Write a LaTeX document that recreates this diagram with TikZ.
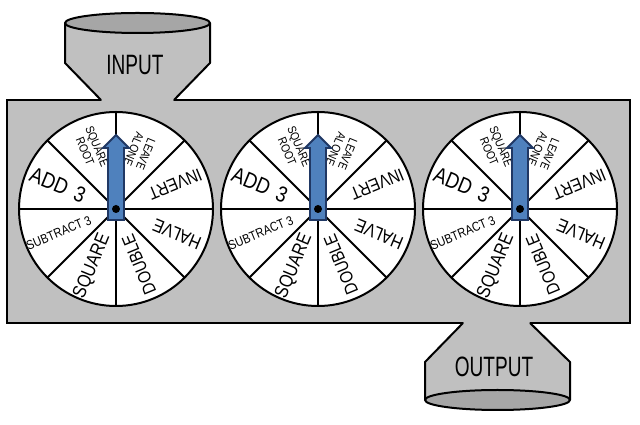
\documentclass[tikz,border=0pt]{standalone}
\usepackage{fontspec}
\setmainfont{Liberation Sans}
\newfontfamily\condfont[FakeStretch=0.68]{Liberation Sans}
\newfontfamily\wheelfont[FakeStretch=0.85]{Liberation Sans}
\usetikzlibrary{calc}
\definecolor{boxgray}{RGB}{192,192,192}
\definecolor{capgray}{RGB}{166,166,166}
\definecolor{pointerblue}{RGB}{79,129,189}
\definecolor{pointeredge}{RGB}{32,56,100}
\begin{document}
\begin{tikzpicture}[x=1pt,y=1pt,
  outline/.style={draw=black,line width=2pt,line join=round},
  machine/.style={draw=black,fill=boxgray,line width=2pt,minimum width=623pt,minimum height=223pt,inner sep=0pt,outer sep=0pt},
  wheel/.style={circle,draw=black,fill=white,line width=2pt,minimum size=194pt,inner sep=0pt,outer sep=0pt},
  spoke/.style={draw=black,line width=2pt},
  pointer/.style={draw=pointeredge,fill=pointerblue,line width=1.8pt,line join=miter},
  funneltext/.style={font=\condfont\fontsize{28}{30}\selectfont,inner sep=0pt,text=black},
  wlabel/.style={inner sep=0pt,align=center,text=black},
]
\useasboundingbox (0,0) rectangle (640,425);
% main box
\node[machine] (box) at (318.5,213.5) {};
% input funnel
\fill[boxgray] (103,323) -- (101,325) -- (65,362) -- (65,402) -- (210,402) -- (210,362) -- (174,325) -- (172,323) -- cycle;
\draw[outline] (101,325) -- (65,362) -- (65,402);
\draw[outline] (174,325) -- (210,362) -- (210,402);
\draw[outline,fill=capgray] (137.5,402) ellipse [x radius=72.5, y radius=10];
\node[funneltext] (input) at (135,360) {INPUT};
% output funnel
\fill[boxgray] (465,104) -- (463,102) -- (425,63) -- (425,25) -- (570,25) -- (570,63) -- (530,102) -- (528,104) -- cycle;
\draw[outline] (463,102) -- (425,63) -- (425,25);
\draw[outline] (530,102) -- (570,63) -- (570,25);
\draw[outline,fill=capgray] (497.5,25) ellipse [x radius=72.5, y radius=10];
\node[funneltext] (output) at (494,58) {OUTPUT};
% wheels
\foreach \i/\cx in {1/116,2/318,3/520}{
  \node[wheel] (w\i) at (\cx,216) {};
  \foreach \a in {0,45,...,315} \draw[spoke] (w\i.center) -- (w\i.\a);
  \node[wlabel,font=\wheelfont\fontsize{22}{24}\selectfont,rotate=-22.5] (add\i) at ($(w\i.center)+(157.5:63)$) {ADD\hspace{3pt} 3};
  \node[wlabel,font=\wheelfont\fontsize{13}{15}\selectfont,rotate=22.5] (sub\i) at ($(w\i.center)+(202.5:62)$) {SUBTRACT 3};
  \node[wlabel,font=\wheelfont\fontsize{19}{21}\selectfont,rotate=67.5] (sq\i) at ($(w\i.center)+(247.5:62)$) {SQUARE};
  \node[wlabel,font=\wheelfont\fontsize{18}{20}\selectfont,rotate=112.5] (dbl\i) at ($(w\i.center)+(292.5:60)$) {DOUBLE};
  \node[wlabel,font=\wheelfont\fontsize{18.5}{20}\selectfont,rotate=157.5] (hlv\i) at ($(w\i.center)+(337.5:66)$) {HALVE};
  \node[wlabel,font=\wheelfont\fontsize{18}{20}\selectfont,rotate=202.5] (inv\i) at ($(w\i.center)+(22.5:64)$) {INVERT};
  \node[wlabel,font=\wheelfont\fontsize{12}{13}\selectfont,rotate=247.5] (leave\i) at ($(w\i.center)+(67.5:62)$) {LEAVE\\ALONE};
  \node[wlabel,font=\wheelfont\fontsize{12}{13}\selectfont,rotate=292.5] (root\i) at ($(w\i.center)+(112.5:65)$) {SQUARE\\ROOT};
  \draw[pointer] ($(w\i.center)+(-8,-11)$) -- ($(w\i.center)+(8,-11)$) -- ($(w\i.center)+(8,61)$) -- ($(w\i.center)+(13,61)$) -- ($(w\i.center)+(0,74)$) -- ($(w\i.center)+(-13,61)$) -- ($(w\i.center)+(-8,61)$) -- cycle;
  \fill[black] (w\i.center) circle (4);
}
\end{tikzpicture}
\end{document}
